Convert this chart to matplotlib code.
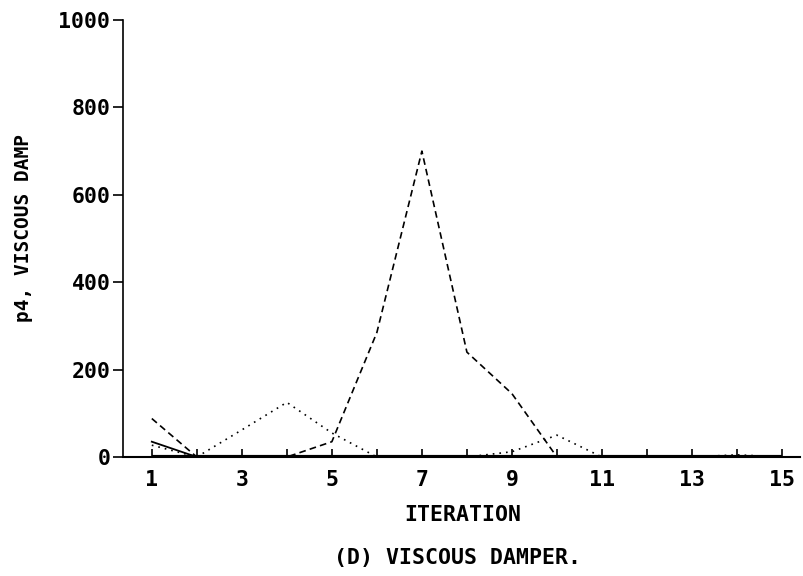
import matplotlib
matplotlib.use("Agg")
import matplotlib.pyplot as plt
import numpy as np

iterations = list(range(1, 16))
dashed_vals = [88, 0, 0, 0, 35, 285, 700, 240, 145, 0, 0, 0, 0, 0, 0]
dotted_vals = [27, 0, 62, 125, 55, 0, 0, 0, 12, 50, 0, 0, 0, 5, 0]
solid_vals = [35, 0, 0, 0, 0, 0, 0, 0, 0, 0, 0, 0, 0, 0, 0]
base_vals = [0] * 15
yticks = [0, 200, 400, 600, 800, 1000]

plt.rcParams['font.family'] = ['DejaVu Sans Mono', 'DejaVu Sans']
plt.rcParams['font.weight'] = 'bold'
FS = 15.5

fig = plt.figure(figsize=(8.04, 5.76), dpi=100)
ax = fig.add_axes([123/804, 1 - 457/576, (800-123)/804, (457-20)/576])

ax.plot(iterations, base_vals, color='black', lw=3.0, solid_capstyle='butt')
ax.plot(iterations, solid_vals, color='black', lw=1.3)
ax.plot(iterations, dashed_vals, color='black', lw=1.2, linestyle=(0, (4, 2.5)))
ax.plot(iterations, dotted_vals, color='black', lw=1.2, linestyle=(0, (1, 3)))

ax.set_xlim(0.36, 15.4)
ax.set_ylim(0, 1000)
ax.spines['top'].set_visible(False)
ax.spines['right'].set_visible(False)
ax.spines['left'].set_linewidth(1.2)
ax.spines['bottom'].set_linewidth(1.5)

ax.set_xticks(iterations)
ax.set_xticklabels([str(i) if i % 2 == 1 else "" for i in iterations])
ax.tick_params(axis='x', direction='in', length=6, width=1.2, labelsize=FS, pad=9)
ax.set_yticks(yticks)
ax.tick_params(axis='y', direction='out', length=7, width=1.2, labelsize=FS, pad=2)

fig.text(463/804, 1 - 515/576, "ITERATION", ha='center', va='center', fontsize=FS)
fig.text(24/804, 1 - 228/576, "p4, VISCOUS DAMP", ha='center', va='center', rotation=90, fontsize=14)
fig.text(458/804, 1 - 558/576, "(D) VISCOUS DAMPER.", ha='center', va='center', fontsize=FS)

fig.savefig("out.png", dpi=100)
